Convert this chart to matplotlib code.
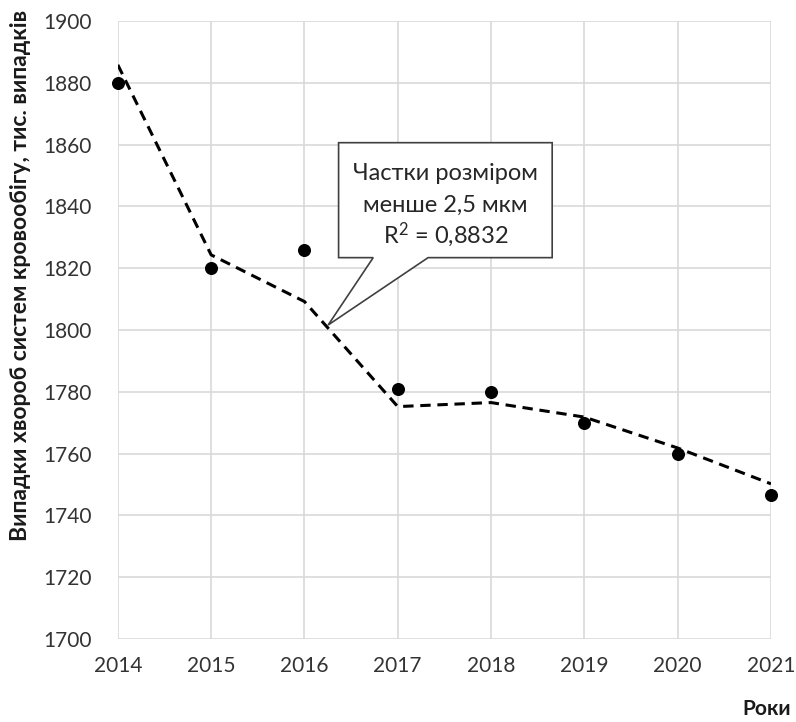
import matplotlib
matplotlib.use("Agg")
import matplotlib.pyplot as plt
from matplotlib.patches import Polygon

plt.rcParams['font.family'] = ['Lato', 'DejaVu Sans']
plt.rcParams['mathtext.fontset'] = 'custom'
plt.rcParams['mathtext.rm'] = 'Lato'
plt.rcParams['mathtext.default'] = 'rm'

years = [2014, 2015, 2016, 2017, 2018, 2019, 2020, 2021]
cases = [1880, 1820, 1826, 1781, 1780, 1770, 1760, 1746.6]
trend = [1885.8, 1824.3, 1809.2, 1775.2, 1776.5, 1771.8, 1761.8, 1750.2]
y_ticks = list(range(1700, 1901, 20))
callout_lines = ["Частки розміром", "менше 2,5 мкм", "R$^{2}$ = 0,8832"]
y_title = "Випадки хвороб систем кровообігу, тис. випадків"
x_title = "Роки"

fig = plt.figure(figsize=(7.96, 7.22), dpi=100)
ax = fig.add_axes([0.148, 0.115, 0.8206, 0.856])

ax.plot(years, trend, color='black', lw=2.2, ls=(0, (3.4, 2.2)), zorder=3)
ax.scatter(years, cases, s=70, color='black', zorder=4, clip_on=False)

ax.set_xlim(years[0], years[-1])
ax.set_ylim(y_ticks[0], y_ticks[-1])
ax.set_xticks(years)
ax.set_yticks(y_ticks)
ax.grid(True, color='#d9d9d9', lw=1.2)
ax.set_axisbelow(True)
for s in ax.spines.values():
    s.set_visible(False)
ax.tick_params(length=0, labelsize=15, colors='#333333')
ax.tick_params(axis='y', pad=19)
ax.tick_params(axis='x', pad=12)

fig.text(0.026, 0.619, y_title, rotation=90, ha='center', va='center',
         fontsize=16.5, fontweight='bold', color='#1a1a1a')
fig.text(0.993, 0.004, x_title, ha='right', va='bottom', fontsize=15,
         fontweight='bold', color='#1a1a1a')

# Wedge-shaped callout box pointing at the trend line
box_l, box_r, box_b, box_t = 0.338, 0.665, 0.617, 0.803
wedge_a, wedge_b = 0.391, 0.475
tip = (0.322, 0.508)
verts = [(box_l, box_b), (wedge_a, box_b), tip, (wedge_b, box_b),
         (box_r, box_b), (box_r, box_t), (box_l, box_t)]
ax.add_patch(Polygon(verts, closed=True, transform=ax.transAxes,
                     facecolor='white', edgecolor='#404040', lw=1.2,
                     zorder=5))
baselines = [0.743, 0.691, 0.641]
for line, yb in zip(callout_lines, baselines):
    ax.text((box_l + box_r) / 2, yb, line, transform=ax.transAxes,
            ha='center', va='baseline', fontsize=17, color='#262626',
            zorder=6)

fig.savefig("out.png", dpi=100)
